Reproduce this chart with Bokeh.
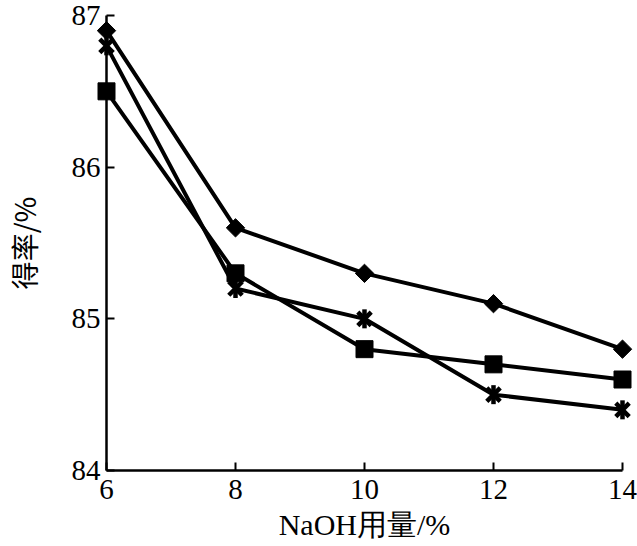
import math
from bokeh.plotting import figure
from bokeh.models import Range1d, FixedTicker
from bokeh.embed import file_html
from bokeh.resources import INLINE

naoh = [6, 8, 10, 12, 14]
series_diamond = [86.9, 85.6, 85.3, 85.1, 84.8]
series_square = [86.5, 85.3, 84.8, 84.7, 84.6]
series_asterisk = [86.8, 85.2, 85.0, 84.5, 84.4]
x_ticks = [6, 8, 10, 12, 14]
y_ticks = [84, 85, 86, 87]

p = figure(width=637, height=546, output_backend="svg", toolbar_location=None,
           x_range=Range1d(6, 14), y_range=Range1d(84, 87),
           min_border_left=106, min_border_right=15, min_border_top=15, min_border_bottom=76)
p.outline_line_color = None
p.grid.visible = False
p.background_fill_color = "white"

for ax in (p.xaxis[0], p.yaxis[0]):
    ax.axis_line_width = 2.5
    ax.axis_line_color = "black"
    ax.major_tick_in = 8
    ax.major_tick_out = 0
    ax.major_tick_line_width = 2
    ax.minor_tick_line_color = None
    ax.major_label_text_font = "Liberation Serif"
    ax.major_label_text_font_size = "29px"
    ax.major_label_text_color = "black"
    ax.axis_label_text_font_style = "normal"
    ax.axis_label_text_color = "black"

p.xaxis.ticker = FixedTicker(ticks=x_ticks)
p.yaxis.ticker = FixedTicker(ticks=y_ticks)
p.xaxis.major_label_standoff = 9
p.yaxis.major_label_standoff = 6
p.xaxis.axis_label = "NaOH用量/%"
p.xaxis.axis_label_text_font = "Liberation Serif"
p.xaxis.axis_label_text_font_size = "30px"
p.xaxis.axis_label_standoff = 6
p.yaxis.axis_label = "得率/%"
p.yaxis.axis_label_text_font = "Noto Sans CJK SC"
p.yaxis.axis_label_text_font_size = "28px"
p.yaxis.axis_label_standoff = 25

lw = 4
rs = []
rs.append(p.line(naoh, series_diamond, line_width=lw, color="black"))
rs.append(p.scatter(naoh, series_diamond, marker="square", size=13, angle=math.pi / 4, color="black"))
rs.append(p.line(naoh, series_square, line_width=lw, color="black"))
rs.append(p.scatter(naoh, series_square, marker="square", size=17, color="black"))
rs.append(p.line(naoh, series_asterisk, line_width=lw, color="black"))
rs.append(p.scatter(naoh, series_asterisk, marker="x", size=19, line_width=4.5, color="black"))
rs.append(p.scatter(naoh, series_asterisk, marker="dash", size=19, angle=math.pi / 2, line_width=4.5, color="black"))
for r in rs:
    r.level = "overlay"

open("out.html", "w").write(file_html(p, INLINE))
